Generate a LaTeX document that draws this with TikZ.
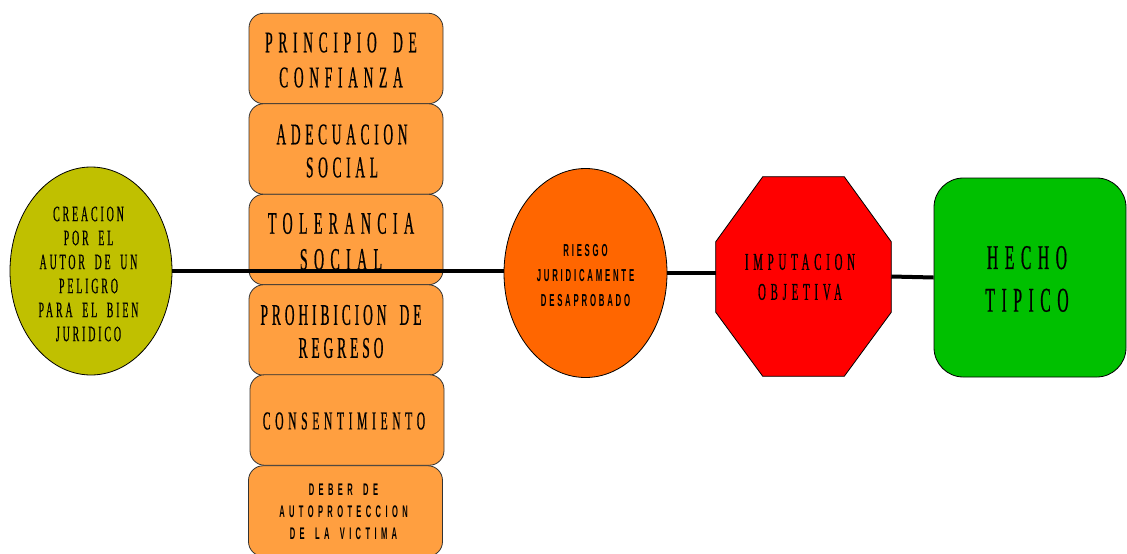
\documentclass[tikz,border=0pt]{standalone}
\usepackage{fontspec}
\setmainfont{Liberation Serif}
\newfontfamily\cs[FakeStretch=0.45,FakeBold=0.5,WordSpace=1.8]{Liberation Serif}
\newfontfamily\cb[FakeStretch=0.45,WordSpace=1.6]{Liberation Sans Bold}
\usetikzlibrary{shapes.geometric,calc}
\definecolor{olive}{HTML}{C0C000}
\definecolor{boxor}{HTML}{FF9F40}
\definecolor{riesgoc}{HTML}{FF6600}
\definecolor{hechoc}{HTML}{00C000}
\definecolor{edge}{HTML}{333333}
\tikzset{
  crit/.style={draw=edge, line width=0.6pt, fill=boxor, rounded corners=11pt,
    minimum width=0.75pt*194, minimum height=0.75pt*90.5, inner sep=0pt},
  lbl/.style={align=center, inner sep=0pt},
  oval/.style={ellipse, draw=black, line width=0.6pt, align=center, inner sep=0pt},
  link/.style={line width=3pt, black},
}
\begin{document}
\begin{tikzpicture}[x=0.75pt, y=-0.75pt]
\useasboundingbox (0,0) rectangle (1127,553);
% criteria column
\node[crit] (b1) at (346,58.5) {};
\node[crit] (b2) at (346,149) {};
\node[crit] (b3) at (346,239.5) {};
\node[crit] (b4) at (346,330) {};
\node[crit] (b5) at (347,420) {};
\node[crit] (b6) at (345.5,511) {};
\node[lbl, font={\cs\addfontfeature{LetterSpace=19}\fontsize{22.5}{26.25}\selectfont}] (t1) at (341,60) {PRINCIPIO DE\\CONFIANZA};
\node[lbl, font={\cs\addfontfeature{LetterSpace=15.5}\fontsize{22.5}{24.75}\selectfont}] (t2) at (342,151) {ADECUACION\\SOCIAL};
\node[lbl, font={\cs\addfontfeature{LetterSpace=20}\fontsize{23.5}{27}\selectfont}] (t3) at (341,241.5) {TOLERANCIA\\SOCIAL};
\node[lbl, font={\cs\addfontfeature{LetterSpace=13}\fontsize{22.5}{24.75}\selectfont}] (t4) at (341,331.5) {PROHIBICION DE\\REGRESO};
\node[lbl, font={\cs\addfontfeature{LetterSpace=18}\fontsize{19.3}{22}\selectfont}] (t5) at (344,421) {CONSENTIMIENTO};
\node[lbl, font={\cb\addfontfeature{LetterSpace=26}\fontsize{12.6}{16.5}\selectfont}] (t6) at (343.5,511.5) {DEBER DE\\AUTOPROTECCION\\DE LA VICTIMA};
% left ellipse
\node[oval, fill=olive, minimum width=0.75pt*162, minimum height=0.75pt*208] (crea) at (91,271) {};
\node[lbl, font={\cs\addfontfeature{LetterSpace=13}\fontsize{16.5}{18}\selectfont}] (creat) at (88.5,274)
  {CREACION\\POR EL\\AUTOR DE UN\\PELIGRO\\PARA EL BIEN\\JURIDICO};
% riesgo ellipse
\node[oval, fill=riesgoc, minimum width=0.75pt*163, minimum height=0.75pt*209,
  font={\cb\addfontfeature{LetterSpace=16}\fontsize{13}{18.75}\selectfont}] (ries) at (585.5,273)
  {\\[-6pt]RIESGO\\JURIDICAMENTE\\DESAPROBADO};
% octagon
\node[minimum width=0.75pt*175, minimum height=0.75pt*199, inner sep=0pt] (imp) at (803.5,276.5) {};
\draw[fill=red, draw=black, line width=0.6pt]
  ($(imp.north west)+(47,0)$) -- ($(imp.north east)+(-47,0)$) -- ($(imp.north east)+(0,65)$)
  -- ($(imp.south east)+(0,-64)$) -- ($(imp.south east)+(-47,0)$) -- ($(imp.south west)+(47,0)$)
  -- ($(imp.south west)+(0,-64)$) -- ($(imp.north west)+(0,65)$) -- cycle;
\node[lbl, font={\cs\addfontfeature{LetterSpace=20}\fontsize{18}{22.5}\selectfont}] (imptxt) at (800,277)
  {IMPUTACION\\OBJETIVA};
% hecho tipico
\node[draw=black, line width=0.6pt, fill=hechoc, rounded corners=22pt, minimum width=0.75pt*192,
  minimum height=0.75pt*199, inner sep=0pt] (hecho) at (1030,277.5) {};
\node[lbl, font={\cs\addfontfeature{LetterSpace=19}\fontsize{26}{32}\selectfont}] (hechot) at (1027,279)
  {HECHO\\TIPICO};
% connectors
\draw[link] (crea.east) -- (crea.east -| ries.west);
\draw[link] (ries.east) -- (ries.east -| imp.west);
\draw[link] (imp.east) -- (hecho.west);
\end{tikzpicture}
\end{document}
